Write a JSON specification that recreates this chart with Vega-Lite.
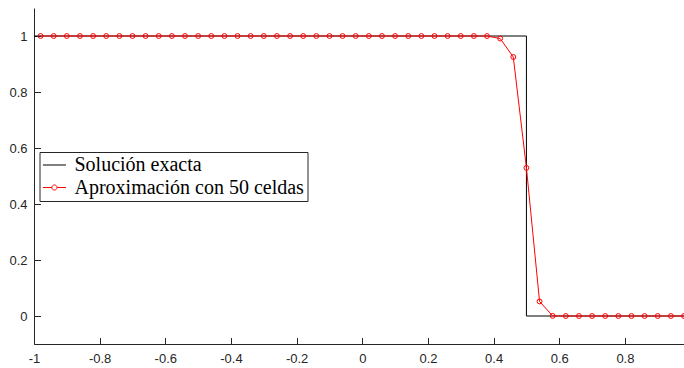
{
  "$schema": "https://vega.github.io/schema/vega-lite/v6.json",
  "autosize": "none",
  "padding": {"left": 34, "top": 8, "right": 0, "bottom": 24},
  "width": 650,
  "height": 336,
  "background": "white",
  "config": {
    "view": {"stroke": null},
    "axis": {
      "grid": false,
      "domainColor": "#262626",
      "tickColor": "#262626",
      "labelColor": "#262626",
      "labelFont": "Liberation Sans",
      "labelFontSize": 13,
      "tickSize": -6.5,
      "domainWidth": 1,
      "tickWidth": 1,
      "title": null
    }
  },
  "datasets": {
    "exact": [
      {"x": -1, "y": 1, "serie": "Solución exacta"},
      {"x": 0.5, "y": 1, "serie": "Solución exacta"},
      {"x": 0.5, "y": 0, "serie": "Solución exacta"},
      {"x": 1, "y": 0, "serie": "Solución exacta"}
    ],
    "approx": [
      {"x": -0.98, "y": 1}, {"x": -0.94, "y": 1}, {"x": -0.90, "y": 1}, {"x": -0.86, "y": 1}, {"x": -0.82, "y": 1},
      {"x": -0.78, "y": 1}, {"x": -0.74, "y": 1}, {"x": -0.70, "y": 1}, {"x": -0.66, "y": 1}, {"x": -0.62, "y": 1},
      {"x": -0.58, "y": 1}, {"x": -0.54, "y": 1}, {"x": -0.50, "y": 1}, {"x": -0.46, "y": 1}, {"x": -0.42, "y": 1},
      {"x": -0.38, "y": 1}, {"x": -0.34, "y": 1}, {"x": -0.30, "y": 1}, {"x": -0.26, "y": 1}, {"x": -0.22, "y": 1},
      {"x": -0.18, "y": 1}, {"x": -0.14, "y": 1}, {"x": -0.10, "y": 1}, {"x": -0.06, "y": 1}, {"x": -0.02, "y": 1},
      {"x": 0.02, "y": 1}, {"x": 0.06, "y": 1}, {"x": 0.10, "y": 1}, {"x": 0.14, "y": 1}, {"x": 0.18, "y": 1},
      {"x": 0.22, "y": 1}, {"x": 0.26, "y": 1}, {"x": 0.30, "y": 1}, {"x": 0.34, "y": 1}, {"x": 0.38, "y": 0.9998},
      {"x": 0.42, "y": 0.991}, {"x": 0.46, "y": 0.925}, {"x": 0.50, "y": 0.529}, {"x": 0.54, "y": 0.052}, {"x": 0.58, "y": 0.0005},
      {"x": 0.62, "y": 0}, {"x": 0.66, "y": 0}, {"x": 0.70, "y": 0}, {"x": 0.74, "y": 0}, {"x": 0.78, "y": 0},
      {"x": 0.82, "y": 0}, {"x": 0.86, "y": 0}, {"x": 0.90, "y": 0}, {"x": 0.94, "y": 0}, {"x": 0.98, "y": 0}
    ]
  },
  "encoding": {
    "x": {
      "field": "x", "type": "quantitative",
      "scale": {"domain": [-1, 0.98], "nice": false, "zero": false},
      "axis": {"values": [-1, -0.8, -0.6, -0.4, -0.2, 0, 0.2, 0.4, 0.6, 0.8], "labelExpr": "'' + datum.value", "labelPadding": 15, "labelFlush": false}
    },
    "y": {
      "field": "y", "type": "quantitative",
      "scale": {"domain": [-0.1, 1.1], "nice": false, "zero": false},
      "axis": {"values": [0, 0.2, 0.4, 0.6, 0.8, 1], "labelExpr": "'' + datum.value", "labelPadding": 13.5}
    }
  },
  "layer": [
    {
      "data": {"name": "exact"},
      "mark": {"type": "line", "clip": true, "strokeWidth": 1},
      "encoding": {
        "color": {
          "field": "serie", "type": "nominal",
          "scale": {"domain": ["Solución exacta", "Aproximación con 50 celdas"], "range": ["#000000", "#ff0000"]},
          "legend": {
            "title": null,
            "orient": "none",
            "legendX": 5.5,
            "legendY": 144,
            "direction": "vertical",
            "strokeColor": "#262626",
            "fillColor": "white",
            "padding": 3,
            "labelFont": "Liberation Serif",
            "labelFontSize": 20,
            "labelColor": "#000000",
            "labelOffset": 12,
            "labelLimit": 400,
            "rowPadding": 2.5,
            "symbolSize": 289,
            "symbolStrokeWidth": 1,
            "symbolType": "stroke",
            "values": ["Solución exacta", "Aproximación con 50 celdas"],
            "encode": {
              "symbols": {
                "update": {
                  "shape": {"signal": "datum.value === 'Solución exacta' ? 'M-1.12,0H1.58' : 'M-1.12,0H-0.07M0.53,0H1.58M-0.07,0A0.3,0.3,0,1,0,0.53,0A0.3,0.3,0,1,0,-0.07,0'"},
                  "fill": {"value": "transparent"},
                  "strokeWidth": {"value": 1}
                }
              }
            }
          }
        }
      }
    },
    {
      "data": {"name": "approx"},
      "mark": {"type": "line", "clip": true, "strokeWidth": 1, "color": "#ff0000"},
      "encoding": {}
    },
    {
      "data": {"name": "approx"},
      "mark": {"type": "point", "shape": "circle", "size": 24, "filled": false, "color": "#ff0000", "strokeWidth": 1, "opacity": 1, "clip": false},
      "encoding": {}
    }
  ]
}
